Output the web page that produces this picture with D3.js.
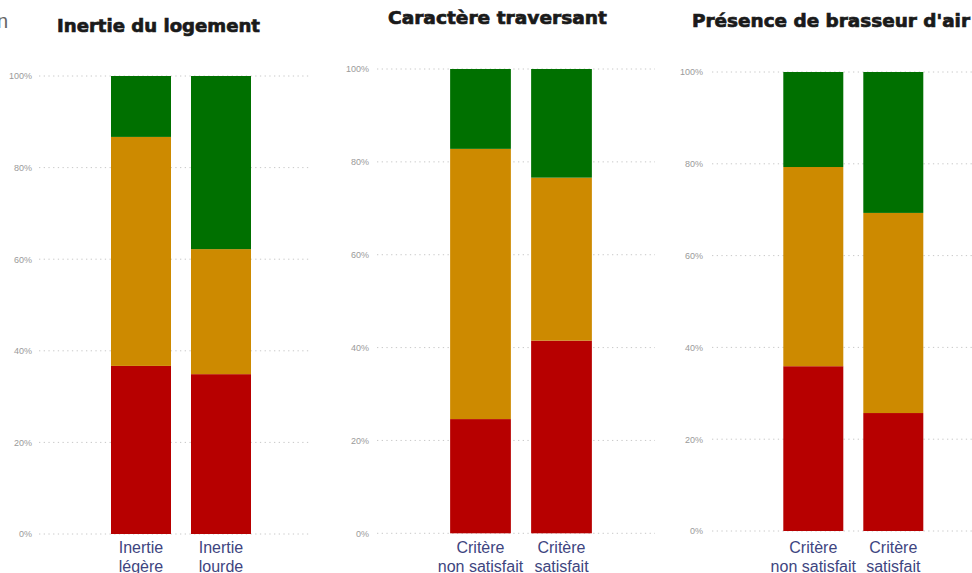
<!DOCTYPE html>
<html><head><meta charset="utf-8">
<script src="https://cdn.jsdelivr.net/npm/d3@7"></script>
<style>
html,body{margin:0;padding:0;background:#fff;}
svg{display:block;}
</style></head>
<body>
<svg id="c" width="972" height="573"></svg>
<script>
// ---- Data ----
const titles = ["Inertie du logement", "Caractère traversant", "Présence de brasseur d'air"];
const categories1 = [["Inertie", "légère"], ["Inertie", "lourde"]];
const categories2 = [["Critère", "non satisfait"], ["Critère", "satisfait"]];
const categories3 = [["Critère", "non satisfait"], ["Critère", "satisfait"]];
const seriesKeys = ["rouge", "orange", "vert"];
const seriesColors = ["#b70000", "#cd8a00", "#007000"];
// values in %, per series, per category
const rouge1 = [36.7, 34.9], orange1 = [50.0, 27.3], vert1 = [13.3, 37.8];
const rouge2 = [24.6, 41.5], orange2 = [58.2, 35.1], vert2 = [17.2, 23.4];
const rouge3 = [35.9, 25.7], orange3 = [43.4, 43.6], vert3 = [20.7, 30.7];
const tickValues = [0, 20, 40, 60, 80, 100];
const tickLabels = ["0%", "20%", "40%", "60%", "80%", "100%"];

// ---- Layout (positions only) ----
const panels = [
  {cats: categories1, vals: [rouge1, orange1, vert1], y0: 534, y1: 76, x0: 101, x1: 261, gx0: 39, gx1: 310, tickX: 32, title: {cx: 158.5, y: 31.7, w: 203}},
  {cats: categories2, vals: [rouge2, orange2, vert2], y0: 533.3, y1: 69, x0: 440, x1: 602, gx0: 377, gx1: 655, tickX: 369, title: {cx: 497.5, y: 24.3, w: 219}},
  {cats: categories3, vals: [rouge3, orange3, vert3], y0: 531, y1: 72, x0: 773.3, x1: 933.3, gx0: 712, gx1: 972, tickX: 703, title: {cx: 831, y: 27.3, w: 278}}
];

const svg = d3.select("#c");

// cropped fragment top-left
svg.append("text").attr("x", -3).attr("y", 28).attr("font-family", "Liberation Sans, Arial, sans-serif")
  .attr("font-size", 20).attr("fill", "#666").text("n");

panels.forEach((p, i) => {
  const g = svg.append("g");
  const y = d3.scaleLinear().domain([0, 100]).range([p.y0, p.y1]);
  const x = d3.scaleBand().domain(p.cats.map((c, j) => j)).range([p.x0, p.x1]).paddingInner(0.25).paddingOuter(0.125);

  // gridlines
  g.selectAll("line.grid").data(tickValues).join("line")
    .attr("x1", p.gx0).attr("x2", p.gx1)
    .attr("y1", d => y(d)).attr("y2", d => y(d))
    .attr("stroke", "#c8c8c8").attr("stroke-width", 1).attr("stroke-dasharray", "1.3,3.4");

  // y axis labels
  const axis = d3.axisLeft(y).tickValues(tickValues).tickFormat((d, k) => tickLabels[k]).tickSize(0).tickPadding(0);
  const ag = g.append("g").attr("transform", `translate(${p.tickX},0)`).call(axis);
  ag.select(".domain").remove();
  ag.selectAll("text").attr("font-family", "Liberation Sans, Arial, sans-serif").attr("font-size", 9).attr("fill", "#9a9a9a");

  // stacked data
  const rows = p.cats.map((c, j) => {
    const o = {idx: j};
    seriesKeys.forEach((k, s) => o[k] = p.vals[s][j]);
    return o;
  });
  const stacked = d3.stack().keys(seriesKeys)(rows);
  g.selectAll("g.layer").data(stacked).join("g")
    .attr("fill", (d, s) => seriesColors[s])
    .selectAll("rect").data(d => d).join("rect")
    .attr("x", d => x(d.data.idx))
    .attr("width", x.bandwidth())
    .attr("y", d => y(d[1]))
    .attr("height", d => y(d[0]) - y(d[1]));

  // category labels
  p.cats.forEach((lines, j) => {
    const t = g.append("text").attr("text-anchor", "middle")
      .attr("font-family", "Liberation Sans, Arial, sans-serif").attr("font-size", 16).attr("fill", "#3e4580");
    lines.forEach((ln, l) => {
      t.append("tspan").attr("x", x(j) + x.bandwidth() / 2).attr("y", 553 + l * 19).text(ln);
    });
  });

  // title
  g.append("text").attr("x", p.title.cx).attr("y", p.title.y).attr("text-anchor", "middle")
    .attr("font-family", "DejaVu Sans, sans-serif").attr("font-weight", "bold").attr("font-size", 18)
    .attr("fill", "#1a1a1a").attr("stroke", "#1a1a1a").attr("stroke-width", 0.7)
    .attr("textLength", p.title.w).attr("lengthAdjust", "spacingAndGlyphs")
    .text(titles[i]);
});
</script>
</body></html>
